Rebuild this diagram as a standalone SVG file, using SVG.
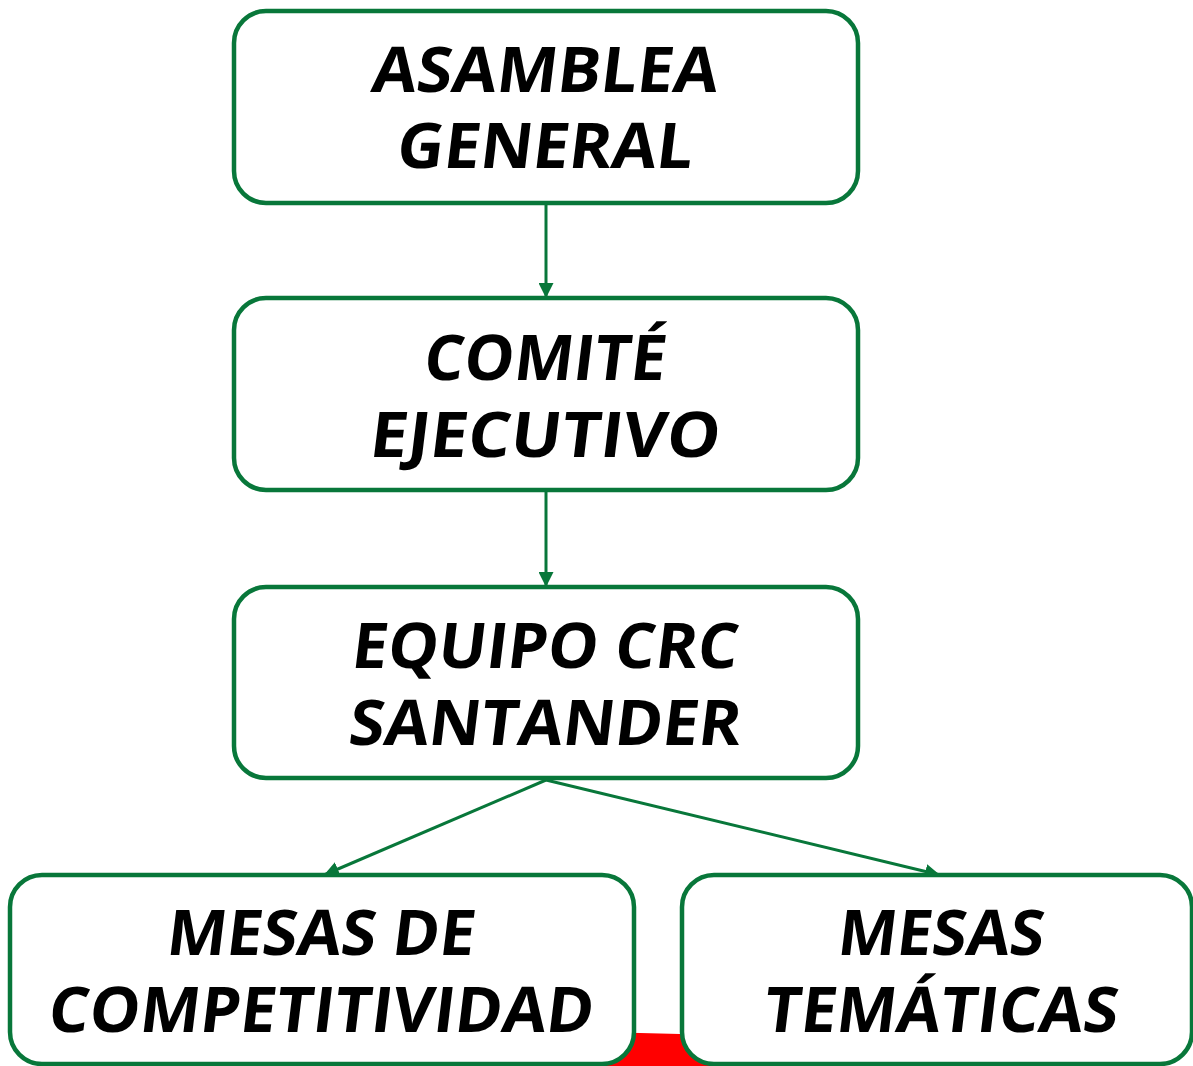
<svg xmlns="http://www.w3.org/2000/svg" width="1193" height="1066" viewBox="0 0 1193 1066">
<style>
.box{fill:#ffffff;stroke:#08773a;stroke-width:4.5}
.lbl{font-family:"Open Sans","DejaVu Sans",sans-serif;font-weight:bold;font-size:63px;fill:#000;text-anchor:middle}
.con{stroke:#08773a;stroke-width:3;fill:none}
</style>
<defs>
<marker id="ah" viewBox="0 0 10 10" refX="10" refY="5" markerWidth="5" markerHeight="5" orient="auto" markerUnits="strokeWidth">
<path d="M0,0 L10,5 L0,10 z" fill="#08773a"/>
</marker>
</defs>
<polygon points="600,1032 720,1035 720,1066 600,1066" fill="#ff0000"/>
<g id="connectors">
<line class="con" x1="546" y1="203" x2="546" y2="298" marker-end="url(#ah)"/>
<line class="con" x1="546" y1="490" x2="546" y2="587" marker-end="url(#ah)"/>
<line class="con" x1="546" y1="780" x2="324" y2="875" marker-end="url(#ah)"/>
<line class="con" x1="546" y1="780" x2="940" y2="875" marker-end="url(#ah)"/>
</g>
<g id="n1">
<rect class="box" x="234" y="11" width="624" height="192" rx="32"/>
<text class="lbl" transform="translate(543 92) skewX(-7)" textLength="346" lengthAdjust="spacingAndGlyphs">ASAMBLEA</text>
<text class="lbl" transform="translate(543 168) skewX(-7)" textLength="296" lengthAdjust="spacingAndGlyphs">GENERAL</text>
</g>
<g id="n2">
<rect class="box" x="234" y="298" width="624" height="192" rx="32"/>
<text class="lbl" transform="translate(543 380) skewX(-7)" textLength="242" lengthAdjust="spacingAndGlyphs">COMITÉ</text>
<text class="lbl" transform="translate(543 457) skewX(-7)" textLength="350" lengthAdjust="spacingAndGlyphs">EJECUTIVO</text>
</g>
<g id="n3">
<rect class="box" x="234" y="587" width="624" height="191" rx="32"/>
<text class="lbl" transform="translate(543 668) skewX(-7)" textLength="386" lengthAdjust="spacingAndGlyphs">EQUIPO CRC</text>
<text class="lbl" transform="translate(543 745) skewX(-7)" textLength="392" lengthAdjust="spacingAndGlyphs">SANTANDER</text>
</g>
<g id="n4">
<rect class="box" x="10" y="875" width="624" height="189" rx="32"/>
<text class="lbl" transform="translate(319 955) skewX(-7)" textLength="308" lengthAdjust="spacingAndGlyphs">MESAS DE</text>
<text class="lbl" transform="translate(319 1032) skewX(-7)" textLength="545" lengthAdjust="spacingAndGlyphs">COMPETITIVIDAD</text>
</g>
<g id="n5">
<rect class="box" x="682" y="875" width="510" height="189" rx="32"/>
<text class="lbl" transform="translate(939 955) skewX(-7)" textLength="206" lengthAdjust="spacingAndGlyphs">MESAS</text>
<text class="lbl" transform="translate(939 1032) skewX(-7)" textLength="354" lengthAdjust="spacingAndGlyphs">TEMÁTICAS</text>
</g>
</svg>
